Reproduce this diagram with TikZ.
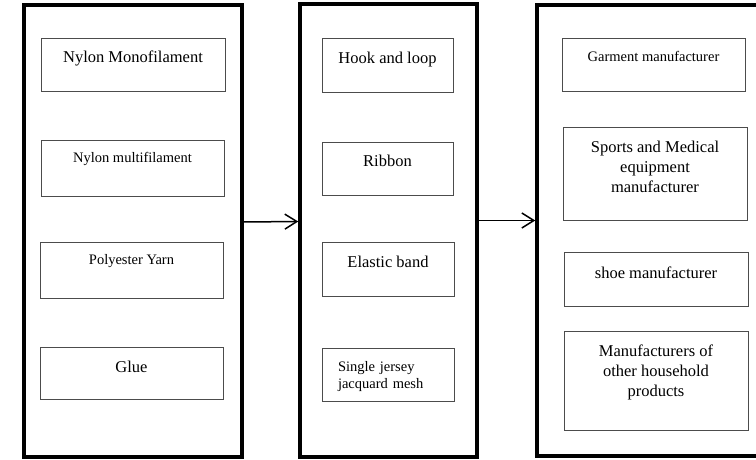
\documentclass[tikz,border=0pt]{standalone}
\usepackage{fontspec}
\setmainfont{Liberation Serif}
\usetikzlibrary{arrows.meta}
\tikzset{
    every node/.style={rectangle, draw, inner ysep=0pt,
    	font=\fontsize{16.5}{20}\selectfont}
}
\tikzset{
    col/.style={line width=3.5pt},
    item/.style={draw=black!70, line width=0.9pt, align=center},
    small/.style={font=\fontsize{14.5}{17}\selectfont}
}
\tikzset{
    every edge/.append style={line width=1.5pt, -{Straight Barb[length=12pt,width=15pt]}}
}

\begin{document}
\begin{tikzpicture}[x=1pt,y=1pt]
	\useasboundingbox (0,0) rectangle (756,459);
	\node (1) [col, minimum width=218pt, minimum height=452pt] at (133,228) {};
	\node (2) [col, minimum width=177pt, minimum height=453pt] at (388.5,228.5) {};
	\node (3) [col, minimum width=238pt, minimum height=451pt] at (656,228.5) {};
	
	\node (4) [item, minimum width=184pt, text height=25pt, text depth=28pt] at (133,394.5) {Nylon Monofilament};
	\node (5) [item, small, minimum width=183pt, text height=22pt, text depth=34pt] at (132.5,291) {Nylon multifilament};
	\node (6) [item, small, minimum width=183pt, text height=22pt, text depth=34pt] at (131.5,189) {Polyester Yarn};
	\node (7) [item, minimum width=183pt, text height=25pt, text depth=27pt] at (131.5,86) {Glue};
	
	\node (8) [item, minimum width=131pt, text height=26pt, text depth=28pt] at (387.5,394) {Hook and loop};
	\node (9) [item, minimum width=131pt, text height=25pt, text depth=28pt] at (387.5,290.5) {Ribbon};
	\node (10) [item, minimum width=132pt, text height=25pt, text depth=29pt] at (388,190) {Elastic band};
	\node (11) [item, small, align=left, text width=100pt, inner xsep=16pt, text height=23pt, text depth=30pt] at (388,84.5) {Single jersey\\jacquard mesh};
	
	\node (12) [item, small, minimum width=183pt, text height=24pt, text depth=29pt] at (653.5,394.5) {Garment manufacturer};
	\node (13) [item, minimum width=184pt, text height=65pt, text depth=28pt] at (655,285.5) {Sports and Medical\\equipment\\manufacturer};
	\node (14) [item, minimum width=184pt, text height=26pt, text depth=28pt] at (656,180) {shoe manufacturer};
	\node (15) [item, minimum width=184pt, text height=65pt, text depth=34pt] at (656,78.5) {Manufacturers of\\other household\\products};
	
	\draw ([yshift=9pt]1.east) edge ([yshift=9pt]2.west);
	\draw ([yshift=10pt]2.east) edge ([yshift=10pt]3.west);
\end{tikzpicture}
\end{document}
